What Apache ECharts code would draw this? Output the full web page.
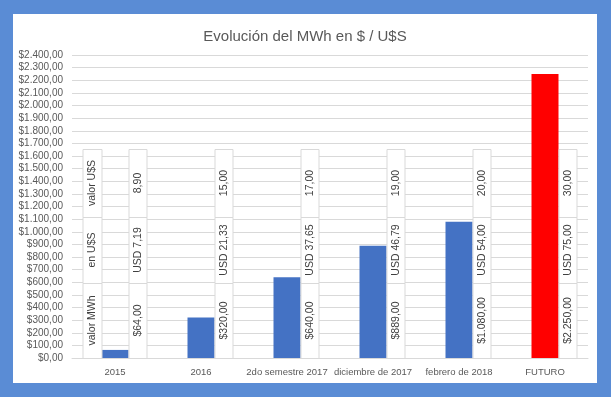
<!DOCTYPE html>
<html>
<head>
<meta charset="utf-8">
<script src="https://cdn.jsdelivr.net/npm/echarts@6/dist/echarts.min.js"></script>
<style>
html,body{margin:0;padding:0;background:#5A8CD5;width:611px;height:397px;overflow:hidden;}
#frame{position:absolute;left:13px;top:14px;width:584px;height:369px;background:#fff;}
#chart{width:584px;height:369px;}
</style>
</head>
<body>
<div id="frame"><div id="chart"></div></div>
<script>
var categories = ['2015', '2016', '2do semestre 2017', 'diciembre de 2017', 'febrero de 2018', 'FUTURO'];
var mwhPesos = [64, 320, 640, 889, 1080, 2250];
var mwhUsd = [7.19, 21.33, 37.65, 46.79, 54.00, 75.00];
var dollarRate = [8.90, 15.00, 17.00, 19.00, 20.00, 30.00];
var rowLabels = ['valor MWh', 'en U$S', 'valor U$S'];
var titleText = 'Evolución del MWh en $ / U$S';

function fmt(v) {
  var s = v.toFixed(2).split('.');
  var intPart = s[0].replace(/\B(?=(\d{3})+(?!\d))/g, '.');
  return intPart + ',' + s[1];
}

var FONT = 'Liberation Sans';
var chart = echarts.init(document.getElementById('chart'));

function renderBoxes(params, api) {
  var i = api.value(0);
  var c = api.coord([i, 0]);
  var barW = 27;
  var barL = c[0] - barW / 2;
  var barR = c[0] + barW / 2;
  var yBottom = c[1];
  var yTop = yBottom - 209;
  var ySep1 = yBottom - 141;
  var ySep2 = yBottom - 75;
  var children = [];
  function column(x0, w, texts) {
    var sections = [[ySep2, yBottom], [ySep1, ySep2], [yTop, ySep1]];
    for (var k = 0; k < 3; k++) {
      var s = sections[k];
      children.push({
        type: 'rect',
        shape: {x: x0 + 0.5, y: s[0] + 0.5, width: w, height: s[1] - s[0]},
        style: {fill: '#fff', stroke: '#D9D9D9', lineWidth: 1}
      });
      children.push({
        type: 'text',
        x: x0 + w / 2 + 0.5,
        y: (s[0] + s[1]) / 2,
        rotation: Math.PI / 2,
        style: {
          text: texts[k],
          fill: '#404040',
          font: '10.5px "' + FONT + '"',
          align: 'center',
          verticalAlign: 'middle'
        }
      });
    }
  }
  if (i === 0) {
    column(barL - 19, 19, rowLabels);
  }
  column(barR, 18, ['$' + fmt(mwhPesos[i]), 'USD ' + fmt(mwhUsd[i]), fmt(dollarRate[i])]);
  return {type: 'group', children: children};
}

var barData = mwhPesos.map(function (v, i) {
  return {
    value: v,
    itemStyle: {color: i === mwhPesos.length - 1 ? '#FF0000' : '#4472C4'}
  };
});

chart.setOption({
  animation: false,
  title: {
    text: titleText,
    left: 'center',
    top: 10,
    textStyle: {fontFamily: FONT, fontSize: 15, fontWeight: 'normal', color: '#595959'}
  },
  grid: {left: 59, right: 9, top: 41, bottom: 25},
  xAxis: {
    type: 'category',
    data: categories,
    axisTick: {show: false},
    axisLine: {lineStyle: {color: '#D9D9D9'}},
    axisLabel: {color: '#595959', fontFamily: FONT, fontSize: 9.5, margin: 9, interval: 0}
  },
  yAxis: {
    type: 'value',
    min: 0,
    max: 2400,
    interval: 100,
    axisLine: {show: false},
    axisTick: {show: false},
    splitLine: {lineStyle: {color: '#D9D9D9'}},
    axisLabel: {
      color: '#595959', fontFamily: FONT, fontSize: 10, margin: 9,
      formatter: function (v) { return '$' + fmt(v); }
    }
  },
  series: [
    {type: 'bar', data: barData, barWidth: 27, z: 2},
    {
      type: 'custom',
      data: categories.map(function (c, i) { return [i, 0]; }),
      encode: {x: 0, y: 1},
      renderItem: renderBoxes,
      clip: false,
      z: 3
    }
  ]
});
</script>
</body>
</html>
